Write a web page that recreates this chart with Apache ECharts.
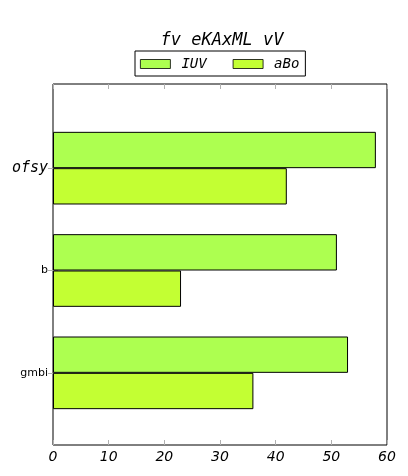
<!DOCTYPE html>
<html><head><meta charset="utf-8">
<script src="https://cdn.jsdelivr.net/npm/echarts@6/dist/echarts.min.js"></script>
<style>html,body{margin:0;padding:0;background:#fff}#c{width:408px;height:476px}</style>
</head><body><div id="c"></div>
<script>
var categories = ['gmbi', 'b', 'ofsy'];
var iuvValues = [53, 51, 58];
var aboValues = [36, 23, 42];
var xTicks = [0, 10, 20, 30, 40, 50, 60];

var chart = echarts.init(document.getElementById('c'));
var tickStyle = {show: true, inside: true, length: 5, lineStyle: {color: '#b0b0b0', width: 1}};
chart.setOption({
  animation: false,
  title: {
    text: 'fv eKAxML vV', left: 217, textAlign: 'center', top: 27,
    textStyle: {fontFamily: 'DejaVu Sans Mono', fontStyle: 'italic', fontWeight: 'normal', fontSize: 17, color: '#000'}
  },
  legend: {
    data: ['IUV', 'aBo'], left: 135, top: 51, orient: 'horizontal',
    itemWidth: 30, itemHeight: 9, itemGap: 26,
    padding: [6, 6, 5, 5],
    borderColor: '#000', borderWidth: 1, borderRadius: 0,
    icon: 'rect',
    itemStyle: {borderColor: '#000', borderWidth: 0.8},
    textStyle: {fontFamily: 'DejaVu Sans Mono', fontStyle: 'italic', fontSize: 14, color: '#000', padding: [0, 0, 0, 6]}
  },
  grid: [
    {left: 53, right: 21, top: 117, bottom: 52, show: false},
    {left: 53, right: 21, top: 84, bottom: 31, show: true, borderColor: '#000', borderWidth: 1, backgroundColor: 'transparent'}
  ],
  xAxis: [{
    type: 'value', gridIndex: 0, min: 0, max: 60, interval: 10, position: 'bottom', offset: 21,
    axisLine: {show: false}, axisTick: tickStyle, splitLine: {show: false},
    axisLabel: {margin: 5, fontFamily: 'DejaVu Sans', fontStyle: 'italic', fontSize: 14, color: '#000',
      formatter: function (v) { return xTicks.indexOf(v) >= 0 ? String(v) : ''; }}
  }, {
    type: 'value', gridIndex: 0, min: 0, max: 60, interval: 10, position: 'top', offset: 33,
    axisLine: {show: false}, axisTick: tickStyle, splitLine: {show: false}, axisLabel: {show: false}
  }, {
    type: 'value', gridIndex: 1, min: 0, max: 60, show: false
  }],
  yAxis: [{
    type: 'category', gridIndex: 0, data: categories, position: 'left',
    axisLine: {show: false}, axisTick: Object.assign({alignWithLabel: true}, tickStyle), splitLine: {show: false},
    axisLabel: {
      margin: 5,
      formatter: function (v) { return v === 'ofsy' ? '{a|' + v + '}' : '{b|' + v + '}'; },
      rich: {
        a: {fontFamily: 'DejaVu Sans Mono', fontStyle: 'italic', fontSize: 15, color: '#000'},
        b: {fontFamily: 'DejaVu Sans', fontSize: 11, color: '#000'}
      }
    }
  }, {
    type: 'category', gridIndex: 0, data: categories, position: 'right',
    axisLine: {show: false}, axisTick: Object.assign({alignWithLabel: true}, tickStyle), splitLine: {show: false},
    axisLabel: {show: false}
  }, {
    type: 'value', gridIndex: 1, show: false
  }],
  series: [{
    name: 'IUV', type: 'bar', data: iuvValues, barGap: '0%', barCategoryGap: '29%',
    itemStyle: {color: '#adff50', borderColor: '#000', borderWidth: 1}
  }, {
    name: 'aBo', type: 'bar', data: aboValues, barGap: '0%', barCategoryGap: '29%',
    itemStyle: {color: '#c3ff33', borderColor: '#000', borderWidth: 1}
  }]
});
</script></body></html>
